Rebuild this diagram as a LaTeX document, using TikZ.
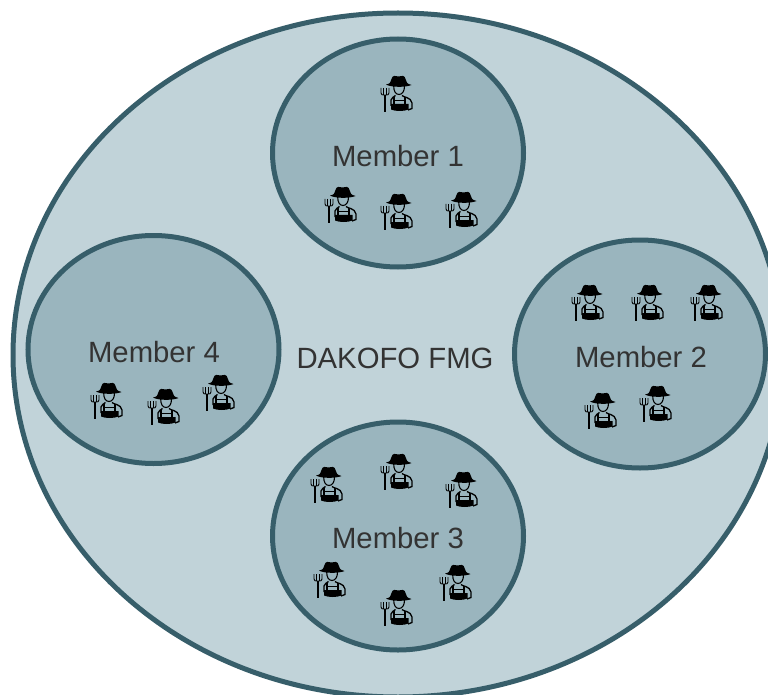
\documentclass[tikz,border=0pt]{standalone}
\usepackage{fontspec}
\setmainfont{Liberation Sans}
\usetikzlibrary{shapes.geometric}
\definecolor{fmgfill}{HTML}{C1D3D9}
\definecolor{memberfill}{HTML}{9AB5BE}
\definecolor{ringcolor}{HTML}{375E6A}
\definecolor{labelcolor}{HTML}{333333}
\tikzset{
    farmer/.pic={
        % hat
        \fill[black] (-11,-9.5) .. controls (-7,-10) and (-6,-12) .. (-5.5,-15) .. controls (-5,-19) and (-1,-18.5) .. (1.5,-17.5) .. controls (4,-18.5) and (8,-19) .. (8.5,-15) .. controls (9,-12) and (10,-10) .. (14.5,-9) .. controls (9,-6.5) and (-6,-6.5) .. (-11,-9.5) -- cycle;
        % head
        \draw[black, line width=1.1pt] (-3.3,-8) .. controls (-3.3,-3) and (-1.5,0.5) .. (2,0.5) .. controls (5.5,0.5) and (7.5,-3) .. (7.5,-8);
        % body
        \draw[black, line width=1.3pt] (-6,12) -- (-6,6) .. controls (-5.5,3.5) and (-3,3) .. (-1.5,1.5) (5,1.5) .. controls (6.5,3.5) and (14,3) .. (15,9) -- (15,14.5) -- (11,16);
        \draw[black, line width=1.1pt] (-3,3) -- (-3,10) (8,3) -- (8,10) (-3,6.5) -- (8,6.5);
        \fill[black] (-6,10) -- (11.5,10) -- (11.5,15.5) .. controls (7,17.5) and (-2,17.5) .. (-6,15.5) -- cycle;
        % fork
        \draw[black, line width=1.2pt] (-12,1) -- (-12,18);
        \draw[black, line width=0.9pt] (-16,-6) -- (-16,-1) .. controls (-16,0.5) and (-15,1.2) .. (-12,1.2) .. controls (-9,1.2) and (-8,0.5) .. (-8,-1) -- (-8,-6);
        \draw[black, line width=0.9pt] (-13.4,-6) -- (-13.4,1) (-10.6,-6) -- (-10.6,1);
    }
}
\begin{document}
\begin{tikzpicture}[
            x=1pt, y=-1pt,
            fmg/.style={draw=ringcolor, fill=fmgfill, line width=5pt, ellipse, minimum width=770pt, minimum height=684pt},
            member/.style={draw=ringcolor, fill=memberfill, line width=5pt, ellipse, minimum width=251pt, minimum height=228pt, inner sep=0pt},
            title/.style={text=labelcolor, inner sep=0pt, font=\fontsize{29.3}{29.3}\selectfont}
        ]

        \useasboundingbox (0,0) rectangle (768,695);
        \clip (0,0) rectangle (768,695);

        \node[fmg] (fmgring) at (398,355) {};

        \node[member] (member1) at (398,153) {};
        \node[member] (member2) at (640,354) {};
        \node[member] (member3) at (398,536) {};
        \node[member] (member4) at (153.5,349.5) {};

        \node[title] (label1) at (398,156) {Member 1};
        \node[title] (label2) at (641,357) {Member 2};
        \node[title] (label3) at (398,538) {Member 3};
        \node[title] (label4) at (154,352) {Member 4};
        \node[title] (fmglabel) at (395,358) {DAKOFO FMG};

        % Farmers in each member
        \foreach \fx/\fy in {397/94, 341/205, 397/212, 462/210,
                             588/303, 648/303, 707/303, 601/411, 656/404,
                             327/485, 397/472, 462/490, 330/580, 456/583, 397/608,
                             107/401, 164/407, 219/393}
            \pic at (\fx,\fy) {farmer};

    \end{tikzpicture}
\end{document}
